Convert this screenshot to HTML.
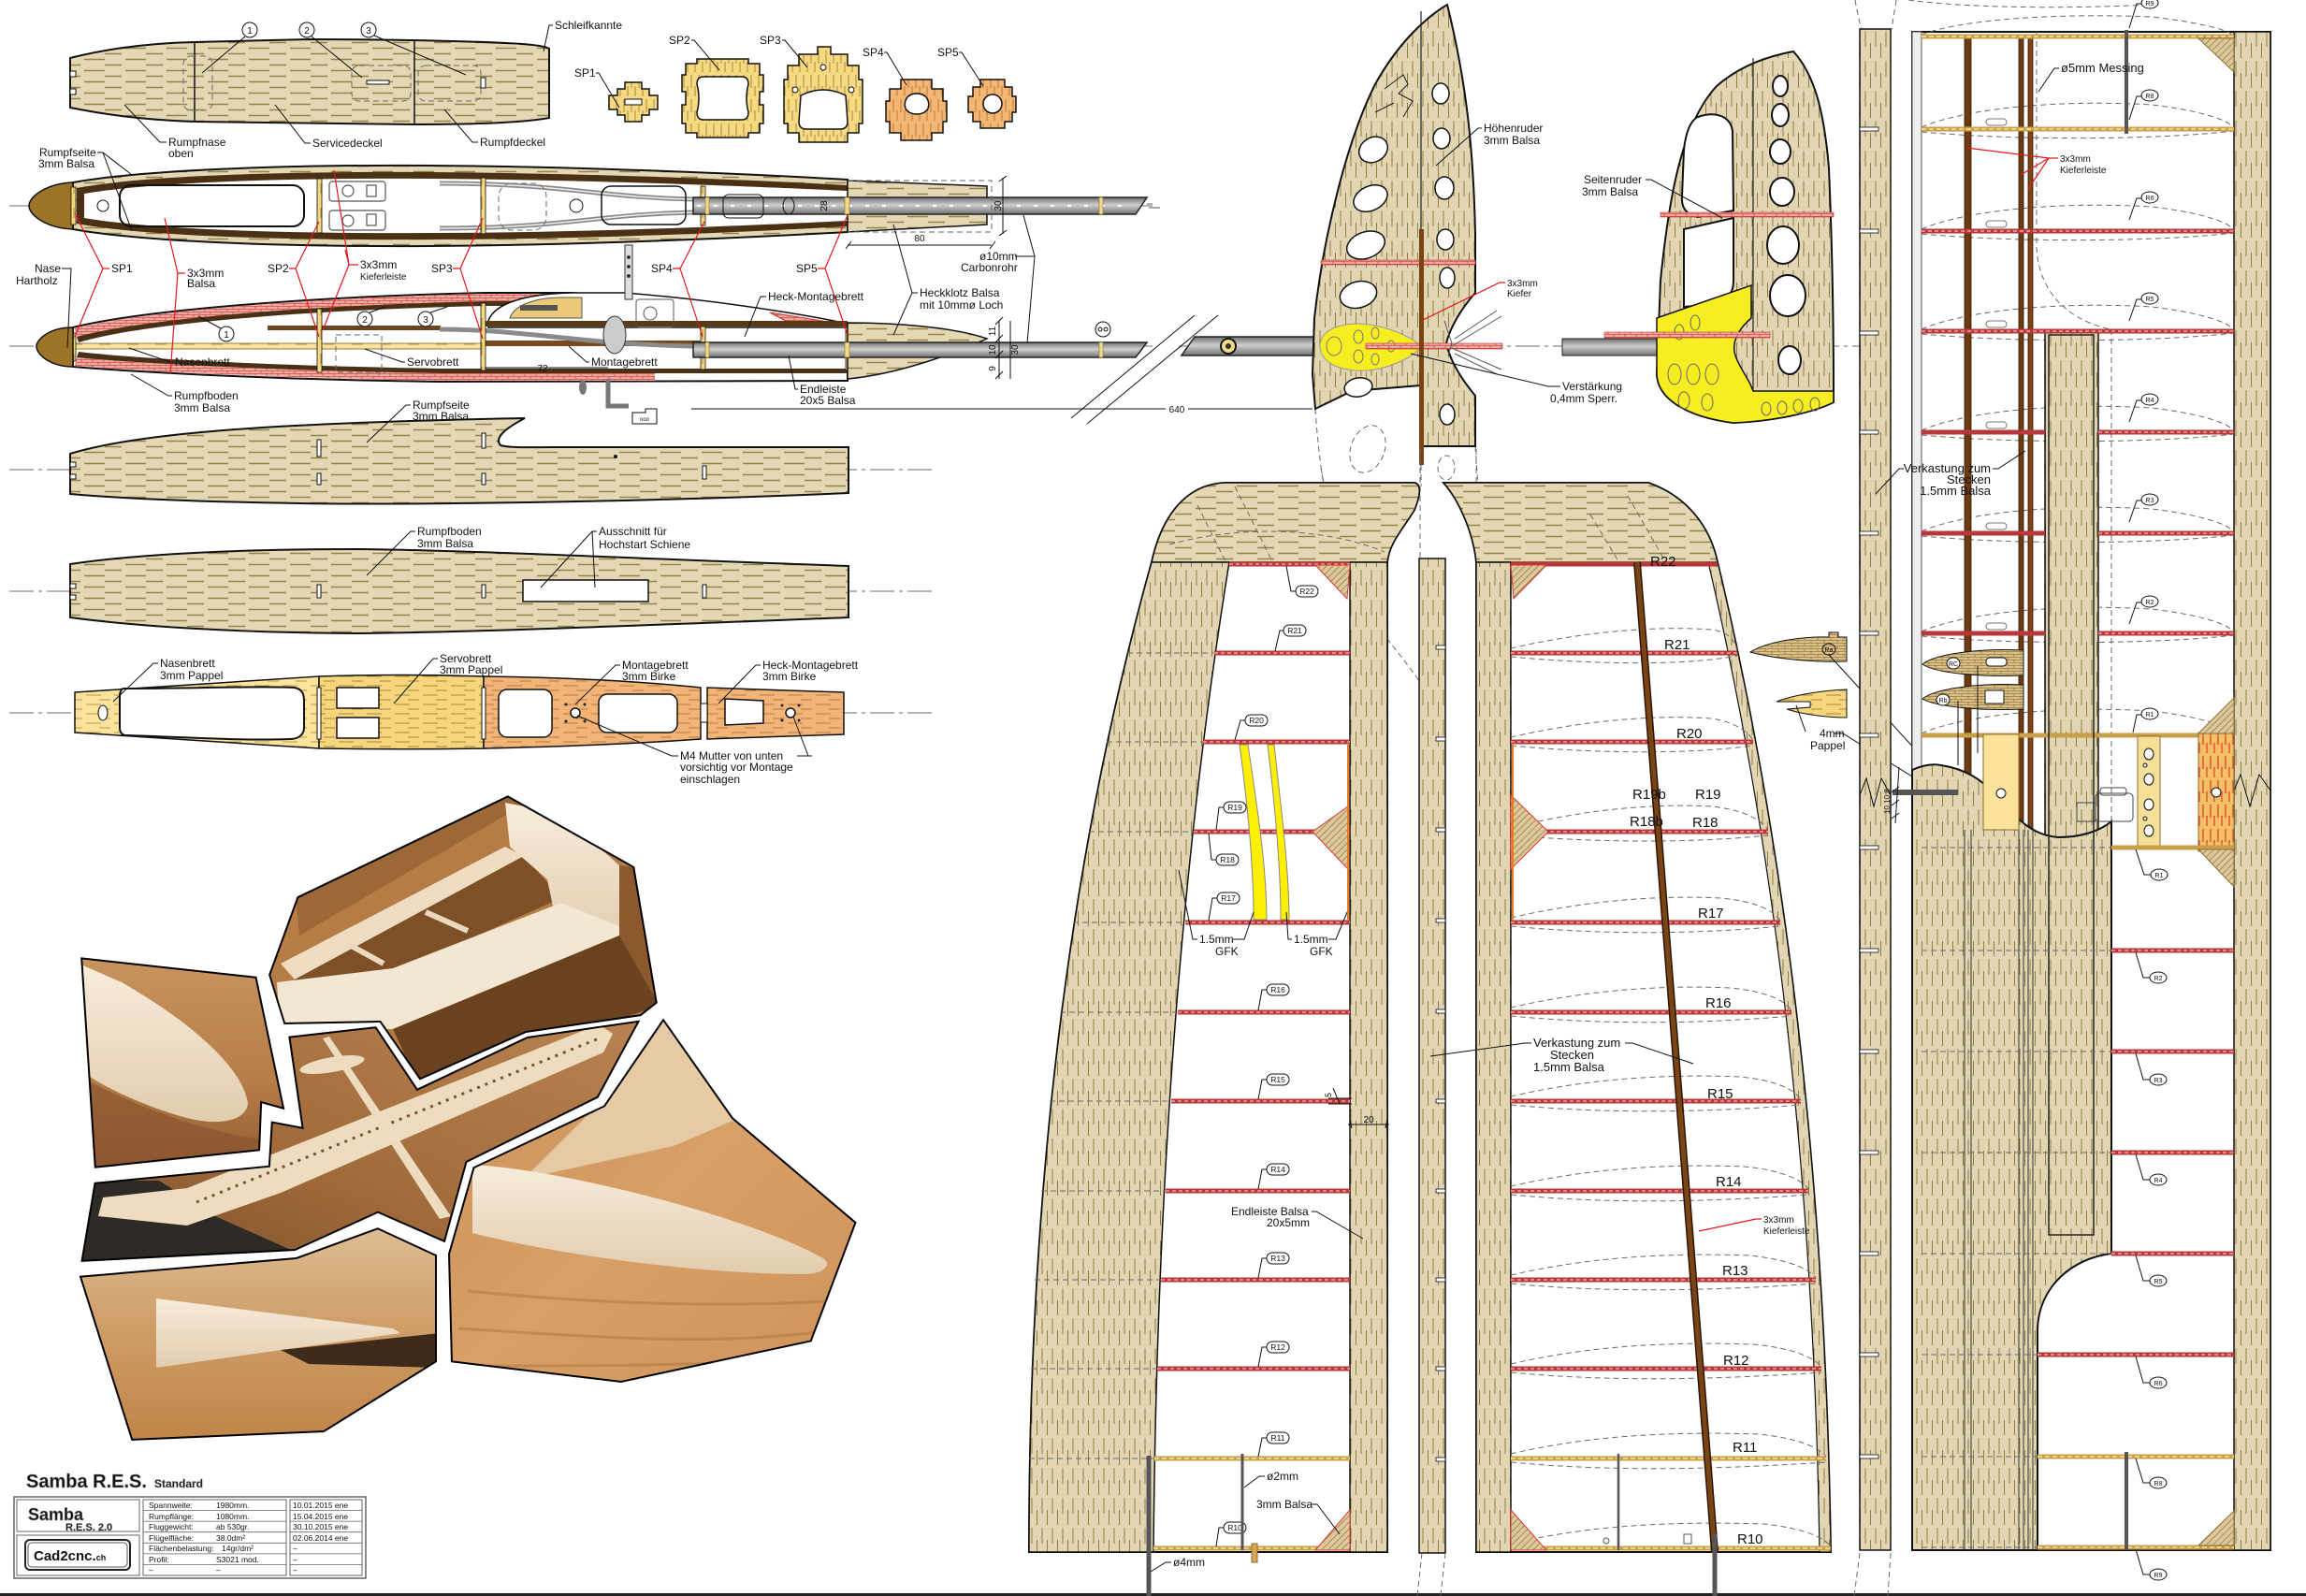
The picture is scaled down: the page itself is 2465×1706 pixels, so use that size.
<!DOCTYPE html>
<html><head><meta charset="utf-8"><title>Samba R.E.S. Standard</title>
<style>
html,body{margin:0;padding:0;background:#fff;width:2465px;height:1706px;overflow:hidden}
svg{display:block}
text{font-family:"Liberation Sans",sans-serif;fill:#111}
.s{font-size:12px}.xs{font-size:10px}.m{font-size:13px}.r{font-size:15px}.tg{font-size:8.5px}.tb{font-size:8.5px}
.ln{stroke:#111;stroke-width:1;fill:none}
.rl{stroke:#e0191e;stroke-width:1.2;fill:none}
.cl{stroke:#8a8a8a;stroke-width:1.2;stroke-dasharray:26 5 4 5;fill:none}
.ds{stroke:#6a6a6a;stroke-width:1;stroke-dasharray:6 4;fill:none}
.rib{stroke:#b8373a;stroke-width:5}
.ribc{stroke:#f0a49c;stroke-width:1.4;stroke-dasharray:4 3}
.yr{stroke:#c9a04a;stroke-width:5}
.yrc{stroke:#f8e3a0;stroke-width:1.6;stroke-dasharray:5 3}
</style></head><body>
<svg width="2465" height="1706" viewBox="0 0 2465 1706" xmlns="http://www.w3.org/2000/svg">
<defs>
<pattern id="gh" width="44" height="12" patternUnits="userSpaceOnUse"><rect width="44" height="12" fill="#e4d7b4"/><path d="M2 3.5h22M24 9.5h18" stroke="#94844a" stroke-width="1.4"/></pattern>
<pattern id="gv" width="11" height="32" patternUnits="userSpaceOnUse"><rect width="11" height="32" fill="#e1d5b3"/><path d="M3 1v17M8.5 14v16" stroke="#8f7f40" stroke-width="1"/></pattern>
<pattern id="yv" width="8" height="26" patternUnits="userSpaceOnUse"><rect width="8" height="26" fill="#f7d981"/><path d="M3 2v14M7 14v11" stroke="#a98a3c" stroke-width="1"/></pattern>
<pattern id="yh" width="30" height="10" patternUnits="userSpaceOnUse"><rect width="30" height="10" fill="#fbe39c"/><path d="M2 3h16M16 8h12" stroke="#b59a4c" stroke-width="1"/></pattern>
<pattern id="yh2" width="30" height="10" patternUnits="userSpaceOnUse"><rect width="30" height="10" fill="#f6d67c"/><path d="M2 3h16M16 8h12" stroke="#a8883a" stroke-width="1"/></pattern>
<pattern id="oh" width="30" height="10" patternUnits="userSpaceOnUse"><rect width="30" height="10" fill="#f3b577"/><path d="M2 3h16M16 8h12" stroke="#b77a3c" stroke-width="1"/></pattern>
<pattern id="ov" width="8" height="26" patternUnits="userSpaceOnUse"><rect width="8" height="26" fill="#f4b673"/><path d="M3 2v14M7 14v11" stroke="#b87a3a" stroke-width="1"/></pattern>
<pattern id="rv" width="8" height="26" patternUnits="userSpaceOnUse"><rect width="8" height="26" fill="#f6c066"/><path d="M3 2v14M7 14v11" stroke="#d0402a" stroke-width="1.2"/></pattern>
<pattern id="pk" width="12" height="6" patternUnits="userSpaceOnUse"><rect width="12" height="6" fill="#eeaaa2"/><path d="M0 .3h12M0 3.3h12M3 0v3M9 3v3" stroke="#cf3e36" stroke-width=".7"/></pattern>
<pattern id="hd" width="5" height="5" patternUnits="userSpaceOnUse" patternTransform="rotate(45)"><rect width="5" height="5" fill="#dcc89c"/><path d="M0 0v5" stroke="#8a6d2f" stroke-width="1.3"/></pattern>
<pattern id="bk" width="14" height="6" patternUnits="userSpaceOnUse"><rect width="14" height="6" fill="#d9c08a"/><path d="M0 .3h14M0 3.3h14M4 0v3M11 3v3" stroke="#8a6d2f" stroke-width=".7"/></pattern>
<linearGradient id="woodB" x1="0" y1="0" x2="0" y2="1"><stop offset="0" stop-color="#c99560"/><stop offset=".6" stop-color="#b57c47"/><stop offset="1" stop-color="#8e5a30"/></linearGradient>
<linearGradient id="woodC" x1="1" y1="0" x2="0" y2="1"><stop offset="0" stop-color="#b98352"/><stop offset=".6" stop-color="#a06a3a"/><stop offset="1" stop-color="#7a4e2a"/></linearGradient>
<linearGradient id="woodD" x1="0" y1="0" x2="0" y2="1"><stop offset="0" stop-color="#dfbf96"/><stop offset=".45" stop-color="#cf9f6a"/><stop offset="1" stop-color="#c08346"/></linearGradient>
<linearGradient id="woodE" x1="0" y1="0" x2="1" y2="1"><stop offset="0" stop-color="#c98e54"/><stop offset=".5" stop-color="#d7a068"/><stop offset="1" stop-color="#cf9258"/></linearGradient>
<linearGradient id="cream" x1="0" y1="0" x2="0" y2="1"><stop offset="0" stop-color="#f8ecdc"/><stop offset="1" stop-color="#e2ccae"/></linearGradient>
<linearGradient id="tubeg" x1="0" y1="0" x2="0" y2="1"><stop offset="0" stop-color="#6f6f6f"/><stop offset=".45" stop-color="#cfcfcf"/><stop offset="1" stop-color="#707070"/></linearGradient>
<clipPath id="cA"><polygon points="316,957 543,848 680,925 705,1073 686,1088 563,1106 448,1157 405,1095 302,1097 285,1042"/></clipPath>
<clipPath id="cB"><polygon points="84,1021 276,1042 307,1189 282,1182 280,1232 99,1251"/></clipPath>
<clipPath id="cC"><polygon points="306,1106 403,1095 447,1161 563,1106 688,1088 641,1175 501,1244 477,1331 404,1299 316,1339 84,1351 99,1262 285,1244 288,1196 320,1202"/></clipPath>
<clipPath id="cD"><polygon points="82,1362 316,1342 404,1310 469,1340 469,1457 347,1533 139,1542"/></clipPath>
<clipPath id="cE"><polygon points="709,1085 785,1193 918,1306 869,1436 664,1480 480,1458 477,1340 504,1246 644,1180"/></clipPath>
</defs>

<!-- ================= CENTER LINES ================= -->
<path class="cl" d="M10 220H1232M10 370H1232M1260 370H1990M10 502H1000M10 632H1000M10 762H1000"/>

<!-- ================= TOP COVER ================= -->
<path d="M75,62 C115,52 160,46 208,45 L330,42 C420,42 500,44 540,46 C565,47 582,49 587,52 L587,126 C560,131 510,133 443,133 L208,130 C150,128 110,122 75,115 Z" fill="url(#gh)" stroke="#111" stroke-width="2"/>
<rect x="75" y="76" width="6" height="6" fill="#fff" stroke="#111"/><rect x="75" y="95" width="6" height="6" fill="#fff" stroke="#111"/>
<path d="M208 45V130M443 43V133" stroke="#111" stroke-width="1.5"/>
<rect x="196" y="60" width="31" height="58" rx="8" class="ds"/>
<rect x="376" y="70" width="63" height="38" rx="8" class="ds"/>
<rect x="447" y="70" width="67" height="38" rx="8" class="ds"/>
<rect x="392" y="86" width="24" height="4" fill="#fff" stroke="#111"/>
<rect x="514" y="83" width="5" height="11" fill="#fff" stroke="#111"/>
<circle cx="267" cy="32" r="8" fill="#fff" stroke="#111"/><text x="267" y="36" class="xs" text-anchor="middle">1</text>
<circle cx="328" cy="32" r="8" fill="#fff" stroke="#111"/><text x="328" y="36" class="xs" text-anchor="middle">2</text>
<circle cx="394" cy="32" r="8" fill="#fff" stroke="#111"/><text x="394" y="36" class="xs" text-anchor="middle">3</text>
<path class="ln" d="M262 39L216 78M333 39L387 83M400 38L498 80"/>
<text x="593" y="31" class="s">Schleifkannte</text><path class="ln" d="M591 27H587L581 55"/>
<text x="180" y="156" class="s">Rumpfnase</text><text x="180" y="168" class="s">oben</text><path class="ln" d="M178 152H171L133 112"/>
<text x="334" y="157" class="s">Servicedeckel</text><path class="ln" d="M332 153H326L294 112"/>
<text x="513" y="156" class="s">Rumpfdeckel</text><path class="ln" d="M511 152H505L475 117"/>

<!-- ================= FORMERS SP1-5 ================= -->
<polygon points="668,88 686,88 686,95 694,95 694,102 703,102 703,117 694,117 694,123 686,123 686,130 668,130 668,123 660,123 660,117 651,117 651,102 660,102 660,95 668,95" fill="url(#yv)" stroke="#111" stroke-width="1.5"/>
<rect x="668" y="106" width="18" height="6" fill="#fff" stroke="#111"/>
<polygon points="745,63 800,63 800,68 812,68 812,80 816,80 816,98 812,98 812,112 816,112 816,132 812,132 812,142 800,142 800,147 745,147 745,142 733,142 733,132 729,132 729,112 733,112 733,98 729,98 729,80 733,80 733,68 745,68" fill="url(#yv)" stroke="#111" stroke-width="1.5"/>
<path d="M752,82 L793,82 Q800,82 800,90 Q796,105 800,120 Q800,128 793,128 L752,128 Q745,128 745,120 Q749,105 745,90 Q745,82 752,82 Z" fill="#fff" stroke="#111" stroke-width="1.5"/>
<polygon points="874,50 888,50 888,58 906,58 906,70 918,70 918,85 922,85 922,132 918,132 918,142 906,142 906,152 854,152 854,142 842,142 842,132 838,132 838,85 842,85 842,70 854,70 854,58 874,58" fill="url(#yv)" stroke="#111" stroke-width="1.5"/>
<path d="M856,102 Q880,90 904,102 L906,130 Q906,138 898,138 L862,138 Q854,138 854,130 Z" fill="#fff" stroke="#111" stroke-width="1.5"/>
<circle cx="880" cy="72" r="3" fill="#fff" stroke="#111"/><circle cx="850" cy="96" r="3" fill="#fff" stroke="#111"/><circle cx="910" cy="96" r="3" fill="#fff" stroke="#111"/>
<polygon points="963,85 996,85 996,95 1008,95 1008,108 1012,108 1012,130 1008,130 1008,142 996,142 996,150 963,150 963,142 951,142 951,130 947,130 947,108 951,108 951,95 963,95" fill="url(#ov)" stroke="#111" stroke-width="1.5"/>
<path d="M980,100 C992,100 994,110 992,116 C988,124 972,124 968,116 C966,110 968,100 980,100 Z" fill="#fff" stroke="#111" stroke-width="1.5"/>
<polygon points="1048,85 1074,85 1074,93 1082,93 1082,103 1086,103 1086,120 1082,120 1082,130 1074,130 1074,137 1048,137 1048,130 1040,130 1040,120 1035,120 1035,103 1040,103 1040,93 1048,93" fill="url(#ov)" stroke="#111" stroke-width="1.5"/>
<circle cx="1061" cy="111" r="10" fill="#fff" stroke="#111" stroke-width="1.5"/>
<text x="614" y="82" class="s">SP1</text><path class="ln" d="M637 78H640L662 115"/>
<text x="715" y="47" class="s">SP2</text><path class="ln" d="M739 43H742L769 75"/>
<text x="812" y="47" class="s">SP3</text><path class="ln" d="M836 43H839L863 72"/>
<text x="922" y="60" class="s">SP4</text><path class="ln" d="M945 56H948L969 91"/>
<text x="1002" y="60" class="s">SP5</text><path class="ln" d="M1025 56H1028L1051 92"/>

<!-- ================= FUSELAGE TOP VIEW ================= -->
<path d="M78,195 C150,182 300,176 460,177 C620,178 800,186 906,192 L906,248 C800,254 620,262 460,263 C300,264 150,258 78,245 Z" fill="url(#gh)" stroke="#111" stroke-width="2"/>
<path d="M82,201 C150,188 300,183 460,184 C620,185 800,192 906,198 L906,242 C800,248 620,256 460,256 C300,257 150,252 82,239 Z" fill="#4a3014"/>
<path d="M90,207 C160,195 300,190 460,191 C620,192 800,199 906,204 L906,236 C800,241 620,249 460,249 C300,250 160,245 90,233 Z" fill="#fff"/>
<path d="M78,195 C50,196 31,210 31,220 C31,230 50,244 78,245 Z" fill="#9b7427" stroke="#111" stroke-width="1.5"/>
<rect x="128" y="198" width="197" height="44" rx="12" fill="none" stroke="#111" stroke-width="2"/>
<circle cx="110" cy="220" r="6" fill="#fff" stroke="#111"/>
<g fill="#fff" stroke="#555" stroke-width="1.2"><rect x="352" y="194" width="60" height="21" rx="3"/><rect x="352" y="225" width="60" height="21" rx="3"/>
<circle cx="372" cy="204" r="6"/><circle cx="372" cy="236" r="6"/><rect x="392" y="198" width="10" height="12"/><rect x="392" y="229" width="10" height="12"/></g>
<path d="M470,196 C600,196 640,211 741,213 M470,244 C600,244 640,229 741,227" stroke="#8a8a8a" stroke-width="5" fill="none"/>
<path d="M470,196 C600,196 640,211 741,213 M470,244 C600,244 640,229 741,227" stroke="#eee" stroke-width="1.5" fill="none"/>
<rect x="533" y="196" width="51" height="50" rx="14" class="ds"/>
<circle cx="616" cy="220" r="7" fill="#fff" stroke="#111"/>
<rect x="643" y="199" width="90" height="41" rx="10" fill="none" stroke="#111" stroke-width="1.5"/>
<g fill="url(#yv)" stroke="#111" stroke-width=".8"><rect x="76" y="200" width="5" height="40"/><rect x="339" y="191" width="5" height="58"/><rect x="514" y="190" width="5" height="60"/><rect x="749" y="199" width="5" height="42"/></g>
<polygon points="906,193 1055,199 1055,240 906,248" fill="url(#gh)" stroke="#111" stroke-width="1.5"/>
<polygon points="741,211 1226,211 1214,229 741,229" fill="url(#tubeg)" stroke="#222" stroke-width="1.5"/>
<path d="M745 220H1210" stroke="#fff" stroke-width="2" stroke-dasharray="4 14"/>
<rect x="773" y="208" width="43" height="25" rx="6" fill="none" stroke="#111"/>
<ellipse cx="843" cy="220" rx="6" ry="9" fill="none" stroke="#111"/>
<g fill="#f3d98a" stroke="#8a6d2f" stroke-width=".6"><rect x="754" y="211" width="4" height="18"/><rect x="903" y="211" width="5" height="18"/><rect x="1175" y="211" width="4" height="18"/></g>
<path d="M1226 218L1232 218M1228 222H1240" stroke="#555"/>
<text x="880" y="224" class="xs" transform="rotate(-90 880 220)" text-anchor="middle">28</text>
<path class="ds" d="M906,193 H1060 V248 H906"/>
<path class="ln" d="M1072 190V250M1068 194L1076 188M1068 252L1076 246"/>
<text x="1066" y="224" class="xs" transform="rotate(-90 1066 220)" text-anchor="middle">30</text>
<path class="ln" d="M906 262H1060M904 266L910 258M1058 266L1064 258"/><text x="983" y="258" class="xs" text-anchor="middle">80</text>

<!-- ================= FUSELAGE SIDE VIEW ================= -->
<path d="M78,350 C150,332 330,317 520,313 L610,313 C700,318 820,333 906,346 L906,407 L470,408 C300,406 150,398 78,392 Z" fill="#fff" stroke="#111" stroke-width="2"/>
<path d="M80,351 C150,333 330,318 520,314 L585,314 L585,322 L520,322 C330,326 150,341 82,360 Z" fill="url(#pk)"/>
<path d="M82,360 C150,341 330,326 520,322 L585,322 L585,327 L520,327 C330,331 150,346 84,366 Z" fill="#4a3014"/>
<path d="M80,391 C150,397 300,404 470,407 L700,407 L700,399 L470,399 C300,396 150,389 82,382 Z" fill="url(#pk)"/>
<path d="M82,382 C150,389 300,396 470,399 L906,399 L906,394 L470,394 C300,391 150,384 84,376 Z" fill="#4a3014"/>
<path d="M522,343 C528,325 560,314 612,313 L667,313 C760,320 860,336 906,346 L906,350 L522,350 Z" fill="#fff" stroke="#111" stroke-width="1.5"/>
<path d="M545,340 C550,325 575,318 600,318 L622,318 L622,340 Z" fill="#ecc978" stroke="#555"/>
<rect x="556" y="326" width="40" height="6" fill="#555"/>
<polygon points="823,334 898,346 845,346" fill="url(#pk)" stroke="#c33"/>
<rect x="518" y="343" width="388" height="6" fill="#5b3a17"/>
<rect x="668" y="262" width="8" height="58" fill="#ddd" stroke="#333"/>
<circle cx="672" cy="275" r="2" fill="#333"/><circle cx="672" cy="285" r="2" fill="#333"/><circle cx="672" cy="295" r="2" fill="#333"/>
<g stroke="#555" fill="none"><rect x="680" y="320" width="40" height="30" rx="3"/><circle cx="695" cy="335" r="7"/></g>
<rect x="80" y="367" width="436" height="6" fill="url(#yh)" stroke="#7a6530" stroke-width=".8"/>
<rect x="516" y="364" width="235" height="6" fill="#7a4a1e"/>
<rect x="286" y="348" width="185" height="5" fill="#6b4420"/>
<path d="M470,352 C560,352 620,368 741,370" stroke="#8a8a8a" stroke-width="5" fill="none"/>
<rect x="359" y="358" width="49" height="40" class="ds"/>
<ellipse cx="657" cy="358" rx="12" ry="20" fill="#ccc" stroke="#333"/>
<g fill="url(#yv)" stroke="#111" stroke-width=".8"><rect x="76" y="356" width="5" height="30"/><rect x="339" y="330" width="5" height="68"/><rect x="514" y="324" width="5" height="72"/><rect x="749" y="349" width="5" height="46"/><rect x="904" y="350" width="5" height="46"/></g>
<path d="M78,350 C50,350 38,365 39,371 C40,380 55,392 78,392 Z" fill="#9b7427" stroke="#111" stroke-width="1.5"/>
<path d="M906,345 C960,345 1020,350 1055,362 C1020,378 960,400 906,405 Z" fill="url(#gh)" stroke="#111" stroke-width="1.5"/>
<polygon points="741,366 1226,366 1214,382 741,382" fill="url(#tubeg)" stroke="#222" stroke-width="1.5"/>
<g fill="#f3d98a" stroke="#8a6d2f" stroke-width=".6"><rect x="754" y="366" width="4" height="16"/><rect x="903" y="366" width="5" height="16"/><rect x="1175" y="366" width="4" height="16"/></g>
<path class="ln" d="M1068 343V405M1080 343V405M1064 347L1072 339M1064 366L1072 358M1064 383L1072 375M1064 405L1072 397"/>
<text x="1064" y="354" class="xs" transform="rotate(-90 1064 354)" text-anchor="middle">11</text>
<text x="1064" y="374" class="xs" transform="rotate(-90 1064 374)" text-anchor="middle">10</text>
<text x="1064" y="394" class="xs" transform="rotate(-90 1064 394)" text-anchor="middle">9</text>
<text x="1088" y="374" class="xs" transform="rotate(-90 1088 374)" text-anchor="middle">30</text>
<path d="M650 405V434H672" stroke="#777" stroke-width="5" fill="none"/>
<ellipse cx="623" cy="414" rx="4" ry="8" fill="#777"/>
<path d="M676,441 H690 V437 H702 V453 H676 Z" fill="#fff" stroke="#111"/><text x="689" y="450" font-size="6" text-anchor="middle">ooo</text>
<path class="ln" d="M518 393H650"/><text x="580" y="397" class="xs" text-anchor="middle">72</text>
<circle cx="242" cy="357" r="8" fill="#fff" stroke="#111"/><text x="242" y="361" class="xs" text-anchor="middle">1</text>
<circle cx="390" cy="341" r="8" fill="#fff" stroke="#111"/><text x="390" y="345" class="xs" text-anchor="middle">2</text>
<circle cx="455" cy="341" r="8" fill="#fff" stroke="#111"/><text x="455" y="345" class="xs" text-anchor="middle">3</text>
<path class="ln" d="M236 351L212 338M395 334L412 328M460 334L478 328"/>
<text x="37" y="291" class="s">Nase</text><text x="17" y="304" class="s">Hartholz</text><path class="ln" d="M66 287H76L72 372"/>
<text x="119" y="291" class="s">SP1</text><path class="rl" d="M117 287H110L80 228M110 287L80 360"/>
<text x="200" y="296" class="s">3x3mm</text><text x="200" y="307" class="s">Balsa</text><path class="rl" d="M198 292H190L176 233M190 292L182 400"/>
<text x="286" y="291" class="s">SP2</text><path class="rl" d="M309 287H316L341 237M316 287L341 360"/>
<text x="385" y="287" class="s">3x3mm</text><text x="385" y="299" class="xs">Kieferleiste</text><path class="rl" d="M383 283H373L357 182M373 283L369 267M373 283L345 353"/>
<text x="461" y="291" class="s">SP3</text><path class="rl" d="M484 287H492L516 233M492 287L516 362"/>
<text x="696" y="291" class="s">SP4</text><path class="rl" d="M719 287H727L753 237M727 287L751 360"/>
<text x="851" y="291" class="s">SP5</text><path class="rl" d="M874 287H882L906 230M882 287L906 358"/>
<text x="1047" y="278" class="s">ø10mm</text><text x="1027" y="290" class="s">Carbonrohr</text><path class="ln" d="M1085 274H1106L1094 230M1106 274L1098 367"/>
<text x="983" y="317" class="s">Heckklotz Balsa</text><text x="983" y="330" class="s">mit 10mmø Loch</text><path class="ln" d="M981 313H975L955 240M975 313L955 358"/>
<text x="821" y="321" class="s">Heck-Montagebrett</text><path class="ln" d="M819 317H813L796 360"/>
<text x="187" y="391" class="s">Nasenbrett</text><path class="ln" d="M185 387H182L138 372"/>
<text x="435" y="391" class="s">Servobrett</text><path class="ln" d="M433 387H430L390 373"/>
<text x="632" y="391" class="s">Montagebrett</text><path class="ln" d="M630 387H627L608 370"/>
<text x="855" y="420" class="s">Endleiste</text><text x="855" y="432" class="s">20x5 Balsa</text><path class="ln" d="M853 416H850L843 380"/>
<text x="186" y="427" class="s">Rumpfboden</text><text x="186" y="440" class="s">3mm Balsa</text><path class="ln" d="M184 423H180L140 400"/>
<text x="42" y="167" class="s">Rumpfseite</text><text x="41" y="179" class="s">3mm Balsa</text><path class="ln" d="M104 163H110L141 187M110 163L141 247"/>
<path class="ln" d="M739 437H1403"/><rect x="1246" y="430" width="24" height="12" fill="#fff"/><text x="1258" y="441" class="xs" text-anchor="middle">640</text>
<path d="M1145,447 L1277,337 M1162,453 L1302,337" stroke="#111" stroke-width="1"/>
<circle cx="1179" cy="352" r="8" fill="#fff" stroke="#111"/><circle cx="1176" cy="352" r="2" fill="none" stroke="#111"/><circle cx="1182" cy="352" r="2" fill="none" stroke="#111"/>
<polygon points="1277,360 1521,360 1521,380 1263,380" fill="url(#tubeg)" stroke="#222" stroke-width="1.5"/>
<circle cx="1313" cy="370" r="8" fill="#f3d98a" stroke="#111" stroke-width="2"/><circle cx="1313" cy="370" r="3" fill="#333"/>

<!-- ================= RUMPFSEITE ================= -->
<path d="M75,485 C150,462 300,452 561,447 C540,458 528,468 535,476 C545,479 570,478 590,478 L907,478 L907,527 C700,536 450,540 319,538 C200,536 120,532 75,528 Z" fill="url(#gh)" stroke="#111" stroke-width="2"/>
<rect x="75" y="494" width="6" height="5" fill="#fff" stroke="#111"/><rect x="75" y="507" width="6" height="5" fill="#fff" stroke="#111"/>
<g fill="#fff" stroke="#111"><rect x="339" y="470" width="4" height="18"/><rect x="339" y="506" width="4" height="12"/><rect x="515" y="463" width="4" height="16"/><rect x="515" y="506" width="4" height="12"/><rect x="751" y="498" width="4" height="14"/></g>
<circle cx="658" cy="488" r="2" fill="#111"/>
<text x="441" y="437" class="s">Rumpfseite</text><text x="441" y="449" class="s">3mm Balsa</text><path class="ln" d="M439 433H434L392 473"/>

<!-- ================= RUMPFBODEN ================= -->
<path d="M75,603 C150,592 250,587 383,587 C500,588 700,598 907,605 L907,660 C700,668 500,676 383,677 C250,676 150,670 75,660 Z" fill="url(#gh)" stroke="#111" stroke-width="2"/>
<rect x="75" y="624" width="6" height="5" fill="#fff" stroke="#111"/><rect x="75" y="636" width="6" height="5" fill="#fff" stroke="#111"/>
<rect x="559" y="620" width="134" height="23" fill="#fff" stroke="#111" stroke-width="1.5"/>
<g fill="#fff" stroke="#111"><rect x="339" y="625" width="4" height="14"/><rect x="515" y="625" width="4" height="14"/><rect x="751" y="625" width="4" height="14"/></g>
<text x="446" y="572" class="s">Rumpfboden</text><text x="446" y="585" class="s">3mm Balsa</text><path class="ln" d="M444 568H439L392 615"/>
<text x="640" y="572" class="s">Ausschnitt für</text><text x="640" y="586" class="s">Hochstart Schiene</text><path class="ln" d="M638 568H633L578 628M633 568L636 628"/>

<!-- ================= BOARDS ================= -->
<path d="M80,740 L341,723 L341,800 L80,783 Z" fill="url(#yh)" stroke="#111" stroke-width="1.5"/>
<path d="M341,723 C400,721 460,721 517,723 L517,800 C460,801 400,801 341,800 Z" fill="url(#yh2)" stroke="#111" stroke-width="1.5"/>
<path d="M517,723 C600,724 680,728 749,735 L749,790 C680,795 600,798 517,800 Z" fill="url(#oh)" stroke="#111" stroke-width="1.5"/>
<path d="M756,735 L902,740 L902,785 L756,790 Z" fill="url(#oh)" stroke="#111" stroke-width="1.5"/>
<rect x="749" y="752" width="7" height="20" fill="#fff" stroke="#111"/>
<path d="M132,736 C200,736 280,733 315,735 C325,737 325,745 325,750 L325,778 C325,786 318,790 310,790 C260,792 200,788 135,786 C130,786 128,782 128,778 L128,744 C128,740 130,736 132,736 Z" fill="#fff" stroke="#111" stroke-width="2"/>
<ellipse cx="110" cy="762" rx="5" ry="8" fill="#fff" stroke="#111"/>
<rect x="360" y="735" width="45" height="22" fill="#fff" stroke="#111" stroke-width="1.5"/><rect x="360" y="767" width="45" height="22" fill="#fff" stroke="#111" stroke-width="1.5"/>
<rect x="533" y="737" width="57" height="51" rx="9" fill="#fff" stroke="#111" stroke-width="1.5"/>
<rect x="640" y="742" width="84" height="41" rx="9" fill="#fff" stroke="#111" stroke-width="1.5"/>
<path d="M775,747 L816,749 L816,773 L775,775 Z" fill="#fff" stroke="#111" stroke-width="1.5"/>
<circle cx="615" cy="762" r="5" fill="#fff" stroke="#111" stroke-width="1.5"/><circle cx="845" cy="762" r="5" fill="#fff" stroke="#111" stroke-width="1.5"/>
<g fill="#222"><circle cx="605" cy="753" r="1.5"/><circle cx="625" cy="753" r="1.5"/><circle cx="605" cy="771" r="1.5"/><circle cx="625" cy="771" r="1.5"/><circle cx="836" cy="754" r="1.5"/><circle cx="854" cy="754" r="1.5"/><circle cx="836" cy="770" r="1.5"/><circle cx="854" cy="770" r="1.5"/></g>
<rect x="339" y="735" width="4" height="55" fill="#fff" stroke="#111"/><rect x="515" y="735" width="4" height="55" fill="#fff" stroke="#111"/>
<text x="171" y="713" class="s">Nasenbrett</text><text x="171" y="726" class="s">3mm Pappel</text><path class="ln" d="M169 709H164L121 750"/>
<text x="470" y="708" class="s">Servobrett</text><text x="470" y="720" class="s">3mm Pappel</text><path class="ln" d="M468 704H463L421 752"/>
<text x="665" y="715" class="s">Montagebrett</text><text x="665" y="727" class="s">3mm Birke</text><path class="ln" d="M663 711H658L615 753"/>
<text x="815" y="715" class="s">Heck-Montagebrett</text><text x="815" y="727" class="s">3mm Birke</text><path class="ln" d="M813 711H808L768 752"/>
<text x="727" y="812" class="s">M4 Mutter von unten</text><text x="727" y="824" class="s">vorsichtig vor Montage</text><text x="727" y="837" class="s">einschlagen</text>
<path class="ln" d="M725 808H718L617 765M852 808H868M864 808L848 766"/>

<!-- ================= PHOTO COLLAGE ================= -->
<g clip-path="url(#cA)">
<rect x="280" y="840" width="430" height="320" fill="#b57c45"/>
<polygon points="316,957 543,848 560,860 320,1000" fill="#9c6836"/>
<polygon points="300,1030 540,905 560,915 315,1047" fill="#eedcc3"/>
<polygon points="315,1047 560,915 600,960 420,1040 310,1060" fill="#7d5028"/>
<path d="M370,1008 L410,1030 M455,975 L500,995" stroke="#ecd8bd" stroke-width="6"/>
<polygon points="540,858 600,870 662,925 662,1000 600,1012 585,940 545,905" fill="url(#cream)"/>
<polygon points="296,1050 420,1035 600,965 662,990 662,1000 420,1100 299,1100" fill="#f3e6d3"/>
<polygon points="420,1100 662,1000 705,1075 448,1160" fill="#6a4220"/>
<polygon points="662,925 705,930 705,1075 662,1000" fill="#8a5a2e"/>
<polygon stroke="#000" stroke-width="8" fill="none" points="316,957 543,848 680,925 705,1073 686,1088 563,1106 448,1157 405,1095 302,1097 285,1042"/>
</g>
<g clip-path="url(#cB)">
<rect x="80" y="1015" width="230" height="240" fill="url(#woodB)"/>
<path d="M84,1030 L130,1050 C200,1090 260,1140 265,1180 C262,1200 230,1203 200,1195 C150,1182 90,1152 84,1140 Z" fill="url(#cream)"/>
<path d="M84,1150 C150,1185 220,1210 280,1218 L300,1240 L84,1255 Z" fill="#8a5530" opacity=".7"/>
<polygon stroke="#000" stroke-width="8" fill="none" points="84,1021 276,1042 307,1189 282,1182 280,1232 99,1251"/>
</g>
<g clip-path="url(#cC)">
<rect x="80" y="1085" width="620" height="270" fill="url(#woodC)"/>
<polygon points="84,1262 170,1262 230,1300 320,1340 84,1355" fill="#2e2a26"/>
<path d="M105,1300 L110,1280 L200,1270 L640,1095 L655,1105 L645,1125 L300,1275 L200,1310 Z" fill="#eedcc0"/>
<path d="M210,1285 L640,1110" stroke="#7a5030" stroke-width="3" stroke-dasharray="3 6"/>
<polygon points="345,1110 352,1108 482,1300 470,1303" fill="#eedcc0"/>
<ellipse cx="355" cy="1138" rx="35" ry="8" transform="rotate(-10 355 1138)" fill="#eedcc0"/>
<polygon stroke="#000" stroke-width="8" fill="none" points="306,1106 403,1095 447,1161 563,1106 688,1088 641,1175 501,1244 477,1331 404,1299 316,1339 84,1351 99,1262 285,1244 288,1196 320,1202"/>
</g>
<g clip-path="url(#cD)">
<rect x="80" y="1305" width="395" height="240" fill="url(#woodD)"/>
<path d="M167,1388 L420,1420 L428,1425 L167,1462 Z" fill="url(#cream)"/>
<path d="M300,1443 L470,1425 L470,1462 L330,1458 Z" fill="#3d2a1a"/>
<polygon stroke="#000" stroke-width="8" fill="none" points="82,1362 316,1342 404,1310 469,1340 469,1457 347,1533 139,1542"/>
</g>
<g clip-path="url(#cE)">
<rect x="475" y="1080" width="450" height="405" fill="url(#woodE)"/>
<path d="M500 1380 C600 1390 750 1400 900 1390 M490 1420 C650 1430 780 1440 900 1420 M520 1460 C650 1460 760 1460 880 1450" stroke="#b47a42" stroke-width="3" fill="none" opacity=".6"/>
<polygon points="640,1180 709,1085 790,1195 720,1225 560,1260" fill="#e6caa4"/>
<path d="M505,1245 C600,1250 800,1300 880,1345 C890,1352 880,1362 860,1362 C750,1362 600,1342 505,1318 Z" fill="url(#cream)"/>
<polygon stroke="#000" stroke-width="8" fill="none" points="709,1085 785,1193 918,1306 869,1436 664,1480 480,1458 477,1340 504,1246 644,1180"/>
</g>
<g fill="none" stroke="#fff" stroke-width="4">
<polygon points="316,957 543,848 680,925 705,1073 686,1088 563,1106 448,1157 405,1095 302,1097 285,1042"/>
<polygon points="84,1021 276,1042 307,1189 282,1182 280,1232 99,1251"/>
<polygon points="306,1106 403,1095 447,1161 563,1106 688,1088 641,1175 501,1244 477,1331 404,1299 316,1339 84,1351 99,1262 285,1244 288,1196 320,1202"/>
<polygon points="82,1362 316,1342 404,1310 469,1340 469,1457 347,1533 139,1542"/>
<polygon points="709,1085 785,1193 918,1306 869,1436 664,1480 480,1458 477,1340 504,1246 644,1180"/>
</g>

<!-- ================= TITLE BLOCK ================= -->
<text x="28" y="1590" font-size="20" font-weight="bold" fill="#fff" stroke="#8a8a8a" stroke-width=".6">Samba R.E.S.</text>
<text x="165" y="1590" font-size="12" font-weight="bold" fill="#fff" stroke="#8a8a8a" stroke-width=".5">Standard</text>
<rect x="15" y="1600" width="376" height="87" fill="none" stroke="#666" stroke-width="1.5"/>
<rect x="18" y="1603" width="131" height="34" fill="none" stroke="#666"/>
<rect x="18" y="1641" width="131" height="43" fill="none" stroke="#666"/>
<text x="30" y="1625" font-size="18" font-weight="bold" fill="#fff" stroke="#888" stroke-width=".6">Samba</text>
<text x="70" y="1636" font-size="11" font-weight="bold" fill="#fff" stroke="#888" stroke-width=".5">R.E.S. 2.0</text>
<rect x="27" y="1646" width="112" height="32" rx="5" fill="none" stroke="#222" stroke-width="2"/>
<rect x="30" y="1649" width="106" height="26" rx="4" fill="none" stroke="#555"/>
<text x="36" y="1668" font-size="15" font-weight="bold">Cad2cnc.<tspan font-size="9">ch</tspan></text>
<rect x="153" y="1603" width="153" height="81" fill="none" stroke="#666"/>
<rect x="310" y="1603" width="77" height="81" fill="none" stroke="#666"/>
<path d="M153 1614.6H306M153 1626.1H306M153 1637.7H306M153 1649.3H306M153 1660.9H306M153 1672.4H306M310 1614.6H387M310 1626.1H387M310 1637.7H387M310 1649.3H387M310 1660.9H387M310 1672.4H387" stroke="#666" stroke-width=".8"/>
<g class="tb">
<text x="159" y="1612">Spannweite:</text><text x="231" y="1612">1980mm.</text>
<text x="159" y="1624">Rumpflänge:</text><text x="231" y="1624">1080mm.</text>
<text x="159" y="1635">Fluggewicht:</text><text x="231" y="1635">ab 530gr.</text>
<text x="159" y="1647">Flügelfläche:</text><text x="231" y="1647">38.0dm²</text>
<text x="159" y="1658">Flächenbelastung:</text><text x="237" y="1658">14gr/dm²</text>
<text x="159" y="1670">Profil:</text><text x="231" y="1670">S3021 mod.</text>
<text x="159" y="1681">–</text><text x="231" y="1681">–</text>
<text x="313" y="1612">10.01.2015 ene</text><text x="313" y="1624">15.04.2015 ene</text><text x="313" y="1635">30.10.2015 ene</text><text x="313" y="1647">02.06.2014 ene</text><text x="313" y="1658">–</text><text x="313" y="1670">–</text><text x="313" y="1681">–</text>
</g>
<rect x="0" y="1703" width="2465" height="3" fill="#222"/>

<!-- ================= STABILIZER ================= -->
<path class="ds" d="M1406,437 C1408,470 1412,500 1415,520 M1519,477 V520 M1577,477 L1580,520"/>
<ellipse cx="1462" cy="480" rx="18" ry="26" transform="rotate(20 1462 480)" class="ds"/><ellipse cx="1546" cy="500" rx="9" ry="13" class="ds"/>
<path d="M1547,5 C1525,18 1495,45 1470,90 C1440,150 1415,250 1405,340 L1403,400 L1406,437 L1445,418 L1519,412 L1521,477 L1577,477 L1577,423 C1562,405 1550,385 1546,367 C1550,350 1562,330 1577,313 L1577,250 C1575,160 1568,90 1547,5 Z" fill="url(#gv)" stroke="#111" stroke-width="2"/>
<path d="M1519 12V477" stroke="#222" stroke-width="1.2"/>
<path d="M1480,95 L1500,80 L1505,90 L1495,100 L1510,108 L1500,125 M1470,120 L1490,110" stroke="#222" fill="none"/>
<g fill="#fff" stroke="#111" stroke-width="1.5">
<ellipse cx="1468" cy="160" rx="16" ry="13" transform="rotate(-30 1468 160)"/><ellipse cx="1465" cy="212" rx="19" ry="13" transform="rotate(-25 1465 212)"/><ellipse cx="1460" cy="262" rx="21" ry="14" transform="rotate(-20 1460 262)"/><ellipse cx="1452" cy="315" rx="20" ry="14" transform="rotate(-15 1452 315)"/><ellipse cx="1452" cy="414" rx="15" ry="10" transform="rotate(-10 1452 414)"/>
<ellipse cx="1540" cy="100" rx="9" ry="11"/><ellipse cx="1541" cy="148" rx="9" ry="11"/><ellipse cx="1544" cy="201" rx="10" ry="12"/><ellipse cx="1545" cy="256" rx="9" ry="11"/><ellipse cx="1547" cy="297" rx="8" ry="11"/><ellipse cx="1547" cy="443" rx="8" ry="11"/></g>
<rect x="1412" y="278" width="165" height="5" fill="url(#pk)" stroke="#b33" stroke-width=".6"/>
<path d="M1411,370 C1411,350 1440,342 1470,348 C1495,353 1515,365 1519,370 C1515,378 1495,390 1470,395 C1440,400 1411,390 1411,370 Z" fill="#f7ee21" stroke="#999"/>
<g fill="none" stroke="#777"><ellipse cx="1426" cy="370" rx="8" ry="10"/><ellipse cx="1452" cy="360" rx="5" ry="7"/><ellipse cx="1452" cy="381" rx="5" ry="7"/><ellipse cx="1470" cy="356" rx="4" ry="6"/><ellipse cx="1470" cy="384" rx="4" ry="6"/><ellipse cx="1487" cy="370" rx="4" ry="6"/></g>
<rect x="1460" y="367" width="146" height="6" fill="url(#pk)" stroke="#b33" stroke-width=".6"/>
<rect x="1517" y="245" width="5" height="252" fill="#7a4314"/>
<path d="M1544,343 L1552,367 L1548,380 M1552,370 L1605,338 M1552,372 L1605,395 M1555,362 L1600,332 M1555,378 L1600,400" stroke="#555" fill="none"/>
<text x="1586" y="141" class="s">Höhenruder</text><text x="1586" y="154" class="s">3mm Balsa</text><path class="ln" d="M1584 137H1580L1535 177"/>
<text x="1611" y="306" class="xs">3x3mm</text><text x="1611" y="317" class="xs">Kiefer</text><path class="rl" d="M1609 302H1603L1521 342"/>
<text x="1670" y="417" class="s">Verstärkung</text><text x="1657" y="430" class="s">0,4mm Sperr.</text><path class="ln" d="M1668 413H1655L1508 378"/>

<!-- ================= FIN ================= -->
<rect x="1670" y="362" width="141" height="18" fill="url(#tubeg)" stroke="#222"/>
<path d="M1917,55 C1890,60 1860,70 1835,92 C1800,130 1785,200 1775,300 L1771,400 C1772,425 1800,445 1853,452 C1900,450 1940,440 1960,430 L1960,418 C1960,330 1958,250 1955,180 C1950,120 1940,80 1917,55 Z" fill="url(#gv)" stroke="#111" stroke-width="2"/>
<path d="M1874 62V418" stroke="#222" stroke-width="1.2"/>
<path d="M1815,125 C1835,118 1850,125 1852,140 L1853,225 L1815,232 C1803,230 1797,222 1798,210 L1800,160 C1802,140 1808,128 1815,125 Z" fill="#fff" stroke="#111" stroke-width="2"/>
<path d="M1800,245 L1853,233 L1853,300 C1853,318 1842,324 1822,326 L1800,328 Z" fill="#fff" stroke="#111" stroke-width="2"/>
<rect x="1775" y="227" width="185" height="5" fill="url(#pk)" stroke="#b33" stroke-width=".6"/>
<g fill="#fff" stroke="#111" stroke-width="2"><ellipse cx="1903" cy="92" rx="8" ry="11"/><ellipse cx="1903" cy="123" rx="9" ry="12"/><ellipse cx="1903" cy="162" rx="11" ry="13"/><ellipse cx="1905" cy="205" rx="13" ry="15"/><ellipse cx="1906" cy="262" rx="17" ry="20"/><ellipse cx="1911" cy="316" rx="19" ry="22"/><ellipse cx="1913" cy="385" rx="12" ry="15"/></g>
<path d="M1771,340 L1872,305 L1872,340 C1860,350 1850,365 1855,380 C1860,395 1870,405 1874,418 L1960,418 L1960,430 C1940,440 1900,450 1853,452 C1800,445 1772,425 1771,400 Z" fill="#f7ee21" stroke="#111" stroke-width="1.5"/>
<g fill="none" stroke="#666"><ellipse cx="1795" cy="355" rx="5" ry="8"/><ellipse cx="1812" cy="345" rx="5" ry="8"/><ellipse cx="1790" cy="400" rx="7" ry="11"/><ellipse cx="1810" cy="400" rx="7" ry="11"/><ellipse cx="1830" cy="400" rx="7" ry="11"/><ellipse cx="1800" cy="428" rx="6" ry="9"/><ellipse cx="1825" cy="430" rx="6" ry="9"/><ellipse cx="1888" cy="437" rx="5" ry="7"/><ellipse cx="1905" cy="436" rx="5" ry="7"/><ellipse cx="1922" cy="434" rx="5" ry="7"/><ellipse cx="1940" cy="432" rx="5" ry="7"/></g>
<rect x="1715" y="355" width="177" height="6" fill="url(#pk)" stroke="#b33" stroke-width=".6"/>
<text x="1693" y="196" class="s">Seitenruder</text><text x="1691" y="209" class="s">3mm Balsa</text><path class="ln" d="M1759 192H1765L1841 233"/>

<!-- ================= LEFT WING PANEL ================= -->
<path class="ds" d="M1412,500 L1432,610 C1460,660 1500,700 1525,740 M1518,480 V597 M1578,480 V597"/>
<path d="M1231,601 C1240,560 1262,518 1310,516 L1512,516 C1520,518 1518,530 1512,545 C1500,565 1485,580 1483,601 L1483,1659 L1100,1659 Q1100,1070 1231,601 Z" fill="#fff" stroke="#111" stroke-width="2"/>
<path d="M1231,601 C1240,560 1262,518 1310,516 L1512,516 C1520,518 1518,530 1512,545 C1500,565 1485,580 1483,601 Z" fill="url(#gh)" stroke="#111" stroke-width="1.5"/>
<path d="M1231,601 L1314,601 Q1238,1070 1233,1659 L1100,1659 Q1100,1070 1231,601 Z" fill="url(#gv)" stroke="#111" stroke-width="1.5"/>
<rect x="1443" y="601" width="40" height="1058" fill="url(#gv)" stroke="#111" stroke-width="1.5"/>
<path class="ds" d="M1280,540 L1310,600 M1250,582 C1330,560 1420,565 1480,590 M1320,520 L1360,600"/>
<g class="ds"><path d="M1205 698H1298M1183 793H1286M1164 889H1276M1147 986H1267M1133 1082H1259M1122 1177H1252M1113 1273H1246M1106 1368H1241M1102 1463H1237M1100 1559H1234"/></g>
<g><line class="rib" x1="1314" y1="603" x2="1443" y2="603"/><line class="rib" x1="1298" y1="698" x2="1443" y2="698"/><line class="rib" x1="1286" y1="793" x2="1443" y2="793"/><line class="rib" x1="1276" y1="889" x2="1443" y2="889"/><line class="rib" x1="1267" y1="986" x2="1443" y2="986"/><line class="rib" x1="1259" y1="1082" x2="1443" y2="1082"/><line class="rib" x1="1252" y1="1177" x2="1443" y2="1177"/><line class="rib" x1="1246" y1="1273" x2="1443" y2="1273"/><line class="rib" x1="1241" y1="1368" x2="1443" y2="1368"/><line class="rib" x1="1237" y1="1463" x2="1443" y2="1463"/>
<line class="yr" x1="1234" y1="1559" x2="1443" y2="1559"/><line class="yr" x1="1233" y1="1655" x2="1443" y2="1655"/></g>
<g><line class="ribc" x1="1314" y1="603" x2="1443" y2="603"/><line class="ribc" x1="1298" y1="698" x2="1443" y2="698"/><line class="ribc" x1="1286" y1="793" x2="1443" y2="793"/><line class="ribc" x1="1276" y1="889" x2="1443" y2="889"/><line class="ribc" x1="1267" y1="986" x2="1443" y2="986"/><line class="ribc" x1="1259" y1="1082" x2="1443" y2="1082"/><line class="ribc" x1="1252" y1="1177" x2="1443" y2="1177"/><line class="ribc" x1="1246" y1="1273" x2="1443" y2="1273"/><line class="ribc" x1="1241" y1="1368" x2="1443" y2="1368"/><line class="ribc" x1="1237" y1="1463" x2="1443" y2="1463"/>
<line class="yrc" x1="1234" y1="1559" x2="1443" y2="1559"/><line class="yrc" x1="1233" y1="1655" x2="1443" y2="1655"/></g>
<polygon points="1406,604 1443,604 1440,640" fill="url(#hd)" stroke="#d33"/>
<polygon points="1403,889 1441,862 1441,929" fill="url(#hd)" stroke="#d33"/>
<polygon points="1406,1657 1443,1614 1443,1657" fill="url(#hd)" stroke="#d33"/>
<path d="M1325,796 L1334,796 C1345,870 1354,930 1354,983 L1340,983 C1340,930 1335,870 1325,796 Z" fill="#ffef00" stroke="#888"/>
<path d="M1355,796 L1362,796 C1370,870 1378,930 1378,983 L1369,983 C1369,930 1364,870 1355,796 Z" fill="#ffef00" stroke="#888"/>
<path d="M1441 796V983" stroke="#f07a1a" stroke-width="2"/>
<g fill="#fff" stroke="#111"><rect x="1385" y="626" width="24" height="12" rx="6"/><rect x="1372" y="668" width="24" height="12" rx="6"/><rect x="1331" y="764" width="24" height="12" rx="6"/><rect x="1308" y="857" width="24" height="12" rx="6"/><rect x="1300" y="913" width="24" height="12" rx="6"/><rect x="1301" y="954" width="24" height="12" rx="6"/><rect x="1354" y="1052" width="24" height="12" rx="6"/><rect x="1354" y="1148" width="24" height="12" rx="6"/><rect x="1354" y="1244" width="24" height="12" rx="6"/><rect x="1354" y="1339" width="24" height="12" rx="6"/><rect x="1354" y="1434" width="24" height="12" rx="6"/><rect x="1354" y="1531" width="24" height="12" rx="6"/><rect x="1308" y="1627" width="24" height="12" rx="6"/></g>
<g class="tg" text-anchor="middle"><text x="1397" y="635">R22</text><text x="1384" y="677">R21</text><text x="1343" y="773">R20</text><text x="1320" y="866">R19</text><text x="1312" y="922">R18</text><text x="1313" y="963">R17</text><text x="1366" y="1061">R16</text><text x="1366" y="1157">R15</text><text x="1366" y="1253">R14</text><text x="1366" y="1348">R13</text><text x="1366" y="1443">R12</text><text x="1366" y="1540">R11</text><text x="1320" y="1636">R10</text></g>
<path class="ln" d="M1385 632H1380L1375 605M1372 674H1368L1363 696M1331 770H1326L1320 791M1308 863H1303L1300 887M1300 919H1295L1292 891M1301 960H1296L1292 984M1354 1058H1349L1345 1080M1354 1154H1349L1345 1175M1354 1250H1349L1345 1271M1354 1345H1349L1345 1366M1354 1440H1349L1345 1461M1354 1537H1349L1345 1557M1308 1633H1303L1300 1653"/>
<text x="1282" y="1008" class="s">1.5mm</text><text x="1299" y="1021" class="s">GFK</text><path class="ln" d="M1280 1004H1275L1260 930M1318 1004H1330L1340 975"/>
<text x="1383" y="1008" class="s">1.5mm</text><text x="1400" y="1021" class="s">GFK</text><path class="ln" d="M1381 1004H1377L1375 975M1420 1004H1428L1440 975"/>
<path class="ln" d="M1425 1163L1432 1180M1420 1174H1445M1420 1180H1445M1443 1196L1445 1206M1483 1196L1481 1206M1441 1202H1485"/>
<text x="1423" y="1173" font-size="9" transform="rotate(-90 1423 1173)">5</text><text x="1463" y="1200" class="xs" text-anchor="middle">20</text>
<text x="1316" y="1299" class="s">Endleiste Balsa</text><text x="1354" y="1311" class="s">20x5mm</text><path class="ln" d="M1402 1295H1407L1457 1324"/>
<path d="M1228 1556V1706" stroke="#555" stroke-width="5"/><path d="M1328 1554V1657" stroke="#555" stroke-width="3"/>
<rect x="1338" y="1650" width="6" height="20" fill="#d8a850" stroke="#8a6d2f"/>
<text x="1354" y="1582" class="s">ø2mm</text><path class="ln" d="M1352 1578H1346L1330 1590"/>
<text x="1343" y="1612" class="s">3mm Balsa</text><path class="ln" d="M1402 1608H1408L1432 1640"/>
<text x="1254" y="1674" class="s">ø4mm</text><path class="ln" d="M1252 1670H1246L1230 1680"/>

<!-- center strip -->
<rect x="1517" y="597" width="28" height="1063" fill="url(#gv)" stroke="#111" stroke-width="1.5"/>
<g fill="#fff" stroke="#111" stroke-width=".8"><rect x="1535" y="690" width="10" height="4"/><rect x="1535" y="788" width="10" height="4"/><rect x="1535" y="885" width="10" height="4"/><rect x="1535" y="982" width="10" height="4"/><rect x="1535" y="1079" width="10" height="4"/><rect x="1535" y="1175" width="10" height="4"/><rect x="1535" y="1271" width="10" height="4"/><rect x="1535" y="1366" width="10" height="4"/><rect x="1535" y="1461" width="10" height="4"/><rect x="1535" y="1558" width="10" height="4"/></g>
<path class="ds" d="M1520,1660 L1515,1706 M1545,1660 L1540,1706"/>

<!-- ================= RIGHT WING PANEL ================= -->
<path d="M1543,516 L1762,516 C1802,530 1828,562 1836,601 Q1948,1070 1957,1659 L1578,1659 L1578,601 C1575,570 1560,535 1543,516 Z" fill="#fff" stroke="#111" stroke-width="2"/>
<path d="M1543,516 L1762,516 C1802,530 1828,562 1836,601 L1578,601 C1575,570 1560,535 1543,516 Z" fill="url(#gh)" stroke="#111" stroke-width="1.5"/>
<rect x="1578" y="601" width="37" height="1058" fill="url(#gv)" stroke="#111" stroke-width="1.5"/>
<path d="M1836,601 Q1948,1070 1957,1659 L1945,1659 Q1936,1070 1826,601 Z" fill="url(#gv)" stroke="#111" stroke-width="1.2"/>
<path class="ds" d="M1700,550 L1730,600 M1740,530 L1780,600"/>
<g class="ds">
<path d="M1615,693 C1680,678 1760,668 1830,673 C1850,676 1855,686 1857,696 M1615,702 C1700,710 1800,712 1857,701"/>
<path d="M1615,788 C1680,773 1760,763 1830,768 C1855,772 1868,782 1874,791 M1615,797 C1700,805 1800,807 1874,797"/>
<path d="M1615,885 C1680,868 1760,858 1830,862 C1865,866 1882,876 1890,887 M1615,893 C1700,900 1800,902 1890,893"/>
<path d="M1615,981 C1680,966 1760,956 1840,960 C1880,964 1896,974 1903,984 M1615,990 C1700,998 1800,1000 1903,990"/>
<path d="M1615,1077 C1680,1062 1760,1052 1850,1056 C1890,1060 1908,1070 1915,1080 M1615,1086 C1700,1094 1800,1096 1915,1086"/>
<path d="M1615,1172 C1680,1157 1760,1147 1860,1151 C1900,1155 1918,1165 1925,1175 M1615,1181 C1700,1189 1800,1191 1925,1181"/>
<path d="M1615,1268 C1680,1253 1760,1243 1865,1247 C1905,1251 1926,1261 1933,1271 M1615,1277 C1700,1285 1800,1287 1933,1277"/>
<path d="M1615,1363 C1680,1348 1760,1338 1870,1342 C1910,1346 1934,1356 1941,1366 M1615,1372 C1700,1380 1800,1382 1941,1372"/>
<path d="M1615,1458 C1680,1443 1760,1433 1875,1437 C1915,1441 1940,1451 1947,1461 M1615,1467 C1700,1475 1800,1477 1947,1467"/>
<path d="M1615,1554 C1680,1539 1760,1529 1880,1533 C1920,1537 1945,1547 1952,1557 M1615,1563 C1700,1571 1800,1573 1952,1563"/>
<path d="M1615,1650 C1680,1635 1760,1625 1885,1629 C1925,1633 1950,1643 1957,1653"/>
</g>
<g><line class="rib" x1="1615" y1="603" x2="1836" y2="603"/><line class="rib" x1="1615" y1="698" x2="1857" y2="698"/><line class="rib" x1="1615" y1="793" x2="1874" y2="793"/><line class="rib" x1="1615" y1="889" x2="1890" y2="889"/><line class="rib" x1="1615" y1="986" x2="1903" y2="986"/><line class="rib" x1="1615" y1="1082" x2="1915" y2="1082"/><line class="rib" x1="1615" y1="1177" x2="1925" y2="1177"/><line class="rib" x1="1615" y1="1273" x2="1933" y2="1273"/><line class="rib" x1="1615" y1="1368" x2="1941" y2="1368"/><line class="rib" x1="1615" y1="1463" x2="1947" y2="1463"/>
<line class="yr" x1="1615" y1="1559" x2="1952" y2="1559"/><line class="yr" x1="1615" y1="1655" x2="1957" y2="1655"/></g>
<g><line class="ribc" x1="1615" y1="698" x2="1857" y2="698"/><line class="ribc" x1="1615" y1="793" x2="1874" y2="793"/><line class="ribc" x1="1615" y1="889" x2="1890" y2="889"/><line class="ribc" x1="1615" y1="986" x2="1903" y2="986"/><line class="ribc" x1="1615" y1="1082" x2="1915" y2="1082"/><line class="ribc" x1="1615" y1="1177" x2="1925" y2="1177"/><line class="ribc" x1="1615" y1="1273" x2="1933" y2="1273"/><line class="ribc" x1="1615" y1="1368" x2="1941" y2="1368"/><line class="ribc" x1="1615" y1="1463" x2="1947" y2="1463"/><line class="yrc" x1="1615" y1="1559" x2="1952" y2="1559"/><line class="yrc" x1="1615" y1="1655" x2="1957" y2="1655"/></g>
<path d="M1750,601 L1833,1659" stroke="#2a1505" stroke-width="8"/>
<path d="M1750,601 L1833,1659" stroke="#7a4414" stroke-width="5"/>
<polygon points="1615,604 1653,604 1618,640" fill="url(#hd)" stroke="#d33"/>
<polygon points="1615,850 1655,889 1615,929" fill="url(#hd)" stroke="#d33"/>
<polygon points="1615,1614 1653,1657 1615,1657" fill="url(#hd)" stroke="#d33"/>
<path d="M1617 796V983" stroke="#f07a1a" stroke-width="2"/>
<path d="M1730 1554V1657" stroke="#555" stroke-width="2.5"/><path d="M1833 1640V1706" stroke="#555" stroke-width="5"/>
<circle cx="1717" cy="1647" r="3" fill="none" stroke="#555"/><rect x="1800" y="1640" width="8" height="10" fill="none" stroke="#555"/>
<g class="r"><text x="1764" y="605">R22</text><text x="1779" y="694">R21</text><text x="1792" y="789">R20</text><text x="1745" y="854">R19b</text><text x="1812" y="854">R19</text><text x="1742" y="883">R18b</text><text x="1809" y="884">R18</text><text x="1815" y="981">R17</text><text x="1823" y="1077">R16</text><text x="1825" y="1174">R15</text><text x="1834" y="1268">R14</text><text x="1841" y="1363">R13</text><text x="1842" y="1459">R12</text><text x="1852" y="1552">R11</text><text x="1857" y="1650">R10</text></g>
<text x="1885" y="1307" class="xs">3x3mm</text><text x="1885" y="1319" class="xs">Kieferleiste</text><path class="rl" d="M1883 1303H1877L1816 1316"/>
<text x="1639" y="1119" class="m">Verkastung zum</text><text x="1657" y="1132" class="m">Stecken</text><text x="1639" y="1145" class="m">1.5mm Balsa</text>
<path class="ln" d="M1637 1115H1630L1529 1129M1737 1115H1745L1810 1137"/>

<!-- 4mm Pappel parts -->
<path d="M1871,697 C1890,685 1930,680 1955,681 L1955,676 L1965,676 L1965,681 L1974,681 L1974,707 C1940,708 1900,705 1871,697 Z" fill="url(#bk)" stroke="#111"/>
<ellipse cx="1955" cy="694" rx="7" ry="6" fill="none" stroke="#111"/><text x="1955" y="697" font-size="7" text-anchor="middle">Ra</text>
<path d="M1899,750 C1920,742 1950,738 1974,737 L1974,767 C1950,767 1925,763 1910,758 L1935,756 L1935,750 Z" fill="url(#yh2)" stroke="#111"/>
<text x="1945" y="788" class="s">4mm</text><text x="1935" y="801" class="s">Pappel</text>
<path class="ln" d="M1955 700L2091 849M1960 784H1970L2060 840M1920 754L1930 782"/>

<!-- ================= ROOT PANEL (RIGHT) ================= -->
<path class="ds" d="M1983,0 C1985,12 1988,25 1990,31 M2027,0 L2022,31 M2040,0 C2100,8 2200,10 2300,5"/>
<rect x="1988" y="31" width="33" height="1626" fill="url(#gv)" stroke="#111" stroke-width="1.5"/>
<g fill="#fff" stroke="#111" stroke-width=".8"><rect x="1988" y="136" width="20" height="4"/><rect x="1988" y="245" width="20" height="4"/><rect x="1988" y="354" width="20" height="4"/><rect x="1988" y="460" width="20" height="4"/><rect x="1988" y="568" width="20" height="4"/><rect x="1988" y="675" width="20" height="4"/><rect x="1988" y="784" width="20" height="4"/><rect x="1988" y="904" width="20" height="4"/><rect x="1988" y="1014" width="20" height="4"/><rect x="1988" y="1122" width="20" height="4"/><rect x="1988" y="1230" width="20" height="4"/><rect x="1988" y="1338" width="20" height="4"/><rect x="1988" y="1446" width="20" height="4"/><rect x="1988" y="1555" width="20" height="4"/></g>
<path d="M1988,850 L1995,832 L2003,862 L2011,832 L2021,850" stroke="#111" fill="none"/>
<path class="ds" d="M1988,1660 L1982,1706 M2021,1660 L2018,1706"/>
<rect x="2044" y="34" width="383" height="1623" fill="#fff" stroke="#111" stroke-width="2"/>
<rect x="2044" y="34" width="10" height="1623" fill="#eee" stroke="#555"/>
<rect x="2388" y="34" width="39" height="1623" fill="url(#gv)" stroke="#111" stroke-width="1.5"/>
<path d="M2388,845 L2395,828 L2405,862 L2415,828 L2427,845" stroke="#111" fill="none"/>
<g class="ds">
<path d="M2054,136 C2100,116 2200,106 2300,112 C2350,118 2385,128 2388,138 M2054,141 C2150,150 2300,150 2388,140"/>
<path d="M2054,245 C2100,225 2200,215 2300,221 C2350,227 2385,237 2388,247 M2054,250 C2150,259 2300,259 2388,249"/>
<path d="M2054,352 C2100,332 2200,322 2300,328 C2350,334 2385,344 2388,354 M2054,357 C2150,366 2300,366 2388,356"/>
<path d="M2054,460 C2100,440 2200,430 2300,436 C2350,442 2385,452 2388,462 M2054,465 C2150,474 2300,474 2388,464"/>
<path d="M2054,568 C2100,548 2200,538 2300,544 C2350,550 2385,560 2388,570 M2054,573 C2150,582 2300,582 2388,572"/>
<path d="M2054,675 C2100,655 2200,645 2300,651 C2350,657 2385,667 2388,677 M2054,680 C2150,689 2300,689 2388,679"/>
<path d="M2054,784 C2100,764 2200,754 2300,760 C2350,766 2385,776 2388,786"/>
<path d="M2054,37 C2100,20 2200,14 2300,18 C2350,24 2385,32 2388,39"/>
<path d="M2177,34 L2177,265 C2180,320 2220,345 2257,352"/>
<path d="M2257,352 V1340"/>
</g>
<g fill="#fff" stroke="#777"><rect x="2123" y="127" width="22" height="7" rx="3.5"/><rect x="2123" y="236" width="22" height="7" rx="3.5"/><rect x="2123" y="343" width="22" height="7" rx="3.5"/><rect x="2123" y="451" width="22" height="7" rx="3.5"/><rect x="2123" y="559" width="22" height="7" rx="3.5"/><rect x="2123" y="666" width="22" height="7" rx="3.5"/></g>
<rect x="2100" y="37" width="7" height="850" fill="#6e3a10" stroke="#2a1505" stroke-width=".8"/>
<rect x="2158" y="37" width="5" height="850" fill="#6e3a10" stroke="#2a1505" stroke-width=".8"/>
<rect x="2168" y="37" width="5" height="850" fill="#7a4414" stroke="#2a1505" stroke-width=".8"/>
<rect x="2186" y="354" width="57" height="560" fill="url(#gv)" stroke="#111" stroke-width="1.5"/>
<g><line class="yr" x1="2054" y1="39" x2="2388" y2="39"/><line class="yr" x1="2054" y1="138" x2="2388" y2="138"/><line class="rib" x1="2054" y1="247" x2="2388" y2="247"/><line class="rib" x1="2054" y1="354" x2="2388" y2="354"/><line class="rib" x1="2054" y1="462" x2="2186" y2="462"/><line class="rib" x1="2243" y1="462" x2="2388" y2="462"/><line class="rib" x1="2054" y1="570" x2="2186" y2="570"/><line class="rib" x1="2243" y1="570" x2="2388" y2="570"/><line class="rib" x1="2054" y1="677" x2="2186" y2="677"/><line class="rib" x1="2243" y1="677" x2="2388" y2="677"/><line class="yr" x1="2054" y1="786" x2="2388" y2="786"/></g>
<g><line class="ribc" x1="2054" y1="247" x2="2388" y2="247"/><line class="ribc" x1="2054" y1="354" x2="2388" y2="354"/><line class="ribc" x1="2243" y1="462" x2="2388" y2="462"/><line class="ribc" x1="2243" y1="570" x2="2388" y2="570"/><line class="ribc" x1="2243" y1="677" x2="2388" y2="677"/><line class="yrc" x1="2054" y1="39" x2="2388" y2="39"/><line class="yrc" x1="2054" y1="138" x2="2388" y2="138"/></g>
<path d="M2273 32V143" stroke="#555" stroke-width="4"/>
<path d="M2055,710 C2070,698 2120,693 2163,695 L2163,722 C2120,724 2070,720 2055,710 Z" fill="url(#bk)" stroke="#111"/>
<rect x="2123" y="703" width="22" height="9" rx="4" fill="#fff" stroke="#111"/>
<ellipse cx="2088" cy="709" rx="7" ry="6" fill="#fff" stroke="#111"/><text x="2088" y="712" font-size="7" text-anchor="middle">RC</text>
<path d="M2055,747 C2070,735 2120,730 2163,732 L2163,758 C2120,760 2070,756 2055,747 Z" fill="url(#bk)" stroke="#111"/>
<rect x="2122" y="738" width="20" height="14" fill="#fff" stroke="#111"/>
<ellipse cx="2077" cy="748" rx="7" ry="6" fill="#fff" stroke="#111"/><text x="2077" y="751" font-size="7" text-anchor="middle">Rb</text>
<path class="ln" d="M2093 749V818M2114 712V805"/>
<path d="M2044,823 C2055,818 2065,816 2075,818 C2100,822 2118,832 2135,852 C2160,880 2175,893 2200,895 C2225,895 2245,888 2257,878 L2257,1340 C2215,1345 2180,1375 2178,1420 L2178,1657 L2044,1657 Z" fill="url(#gv)" stroke="#111" stroke-width="2"/>
<rect x="2120" y="785" width="38" height="102" fill="#fbe29a" stroke="#8a6d2f"/>
<circle cx="2139" cy="848" r="5" fill="#fff" stroke="#111"/>
<rect x="2285" y="787" width="24" height="120" fill="#f6df96" stroke="#8a6d2f"/>
<g fill="#fff" stroke="#111"><ellipse cx="2297" cy="806" rx="5" ry="6"/><ellipse cx="2297" cy="833" rx="5" ry="6"/><ellipse cx="2297" cy="860" rx="5" ry="6"/><ellipse cx="2297" cy="888" rx="5" ry="6"/><circle cx="2293" cy="818" r="2"/><circle cx="2293" cy="875" r="2"/></g>
<rect x="2350" y="783" width="38" height="127" fill="url(#rv)" stroke="#8a6d2f"/>
<circle cx="2369" cy="847" r="5" fill="#fff" stroke="#111"/>
<rect x="2023" y="844" width="70" height="6" fill="#555"/>
<g stroke="#444" fill="none"><rect x="2240" y="848" width="40" height="30" rx="4"/><rect x="2245" y="842" width="28" height="8" rx="3"/><rect x="2220" y="858" width="20" height="20"/></g>
<rect x="2186" y="914" width="57" height="420" fill="url(#gv)"/>
<rect x="2190" y="358" width="48" height="962" fill="none" stroke="#222" stroke-width="1.5"/>
<path d="M2100 887V1657M2107 887V1657M2158 887V1657M2163 887V1657M2168 887V1657M2173 887V1657" stroke="#333" stroke-width="1"/>
<g class="ds"><path d="M2054 1016H2257M2054 1124H2257M2054 1232H2257M2054 1340H2257M2054 1448H2178M2054 1557H2178M2054 1654H2178M2054 906H2257"/></g>
<g><line class="yr" x1="2257" y1="906" x2="2388" y2="906"/><line class="rib" x1="2257" y1="1016" x2="2388" y2="1016"/><line class="rib" x1="2257" y1="1124" x2="2388" y2="1124"/><line class="rib" x1="2257" y1="1232" x2="2388" y2="1232"/><line class="rib" x1="2257" y1="1340" x2="2388" y2="1340"/><line class="rib" x1="2178" y1="1448" x2="2388" y2="1448"/><line class="yr" x1="2178" y1="1557" x2="2388" y2="1557"/><line class="yr" x1="2178" y1="1654" x2="2388" y2="1654"/></g>
<g><line class="ribc" x1="2257" y1="1016" x2="2388" y2="1016"/><line class="ribc" x1="2257" y1="1124" x2="2388" y2="1124"/><line class="ribc" x1="2257" y1="1232" x2="2388" y2="1232"/><line class="ribc" x1="2257" y1="1340" x2="2388" y2="1340"/><line class="ribc" x1="2178" y1="1448" x2="2388" y2="1448"/><line class="yrc" x1="2178" y1="1557" x2="2388" y2="1557"/><line class="yrc" x1="2178" y1="1654" x2="2388" y2="1654"/></g>
<path d="M2273 1552V1657" stroke="#555" stroke-width="4"/>
<g fill="url(#hd)" stroke="#8a6d2f"><polygon points="2350,41 2388,41 2388,77"/><polygon points="2350,784 2388,746 2388,784"/><polygon points="2350,908 2388,908 2388,948"/><polygon points="2350,1652 2388,1615 2388,1652"/></g>
<g fill="#fff" stroke="#111"><ellipse cx="2298" cy="3" rx="9" ry="6"/><ellipse cx="2298" cy="102" rx="9" ry="6"/><ellipse cx="2298" cy="211" rx="9" ry="6"/><ellipse cx="2298" cy="319" rx="9" ry="6"/><ellipse cx="2298" cy="427" rx="9" ry="6"/><ellipse cx="2298" cy="534" rx="9" ry="6"/><ellipse cx="2298" cy="643" rx="9" ry="6"/><ellipse cx="2298" cy="763" rx="9" ry="6"/>
<ellipse cx="2308" cy="935" rx="9" ry="6"/><ellipse cx="2307" cy="1045" rx="9" ry="6"/><ellipse cx="2307" cy="1154" rx="9" ry="6"/><ellipse cx="2307" cy="1261" rx="9" ry="6"/><ellipse cx="2307" cy="1369" rx="9" ry="6"/><ellipse cx="2307" cy="1478" rx="9" ry="6"/><ellipse cx="2307" cy="1585" rx="9" ry="6"/><ellipse cx="2307" cy="1683" rx="9" ry="6"/></g>
<g font-size="7" text-anchor="middle"><text x="2298" y="6">R9</text><text x="2298" y="105">R8</text><text x="2298" y="214">R6</text><text x="2298" y="322">R5</text><text x="2298" y="430">R4</text><text x="2298" y="537">R3</text><text x="2298" y="646">R2</text><text x="2298" y="766">R1</text>
<text x="2308" y="938">R1</text><text x="2307" y="1048">R2</text><text x="2307" y="1157">R3</text><text x="2307" y="1264">R4</text><text x="2307" y="1372">R5</text><text x="2307" y="1481">R6</text><text x="2307" y="1588">R8</text><text x="2307" y="1686">R9</text></g>
<path class="ln" d="M2289 4H2284L2276 30M2289 103H2284L2276 128M2289 212H2284L2276 235M2289 320H2284L2276 343M2289 428H2284L2276 451M2289 535H2284L2276 558M2289 644H2284L2276 667M2289 764H2284L2280 783M2299 935H2292L2283 908M2298 1045H2291L2283 1018M2298 1154H2291L2283 1126M2298 1261H2291L2283 1234M2298 1369H2291L2283 1342M2298 1478H2291L2283 1450M2298 1585H2291L2283 1559M2298 1683H2291L2283 1656"/>
<text x="2203" y="77" class="m">ø5mm  Messing</text><path class="ln" d="M2201 73H2196L2179 98"/>
<text x="2202" y="173" class="xs">3x3mm</text><text x="2202" y="185" class="xs">Kieferleiste</text><path class="rl" d="M2200 169H2190L2102 158M2190 169L2160 187M2190 169L2168 202"/>
<text x="2128" y="505" class="m" text-anchor="end">Verkastung zum</text><text x="2128" y="517" class="m" text-anchor="end">Stecken</text><text x="2128" y="529" class="m" text-anchor="end">1.5mm Balsa</text>
<path class="ln" d="M2035 501H2030L2005 528M2130 501H2136L2165 482"/>
<path class="ln" d="M2026 880L2030 820M2022 875L2030 869M2022 861L2030 855M2022 847L2030 841"/>
<text x="2020" y="870" font-size="8" transform="rotate(-90 2020 870)">10,10,8</text>
</svg>
</body></html>
